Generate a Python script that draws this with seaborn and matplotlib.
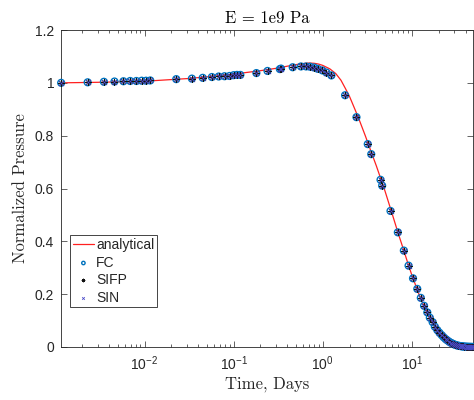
import numpy as np
import pandas as pd
import seaborn as sns
import matplotlib.pyplot as plt
from matplotlib.ticker import FuncFormatter, LogLocator, FixedLocator, NullFormatter

# ---- analytical solution ----
t_analytical = [0.00116, 0.003, 0.01, 0.03, 0.06, 0.1, 0.2, 0.3, 0.4, 0.5,
                0.6, 0.7, 0.8, 0.9, 1.0, 1.2, 1.4, 1.6, 1.8, 2.0,
                2.5, 3.0, 3.5, 4.0, 5.0, 6.0, 7.0, 8.0, 9.0, 10.0,
                12.0, 14.0, 16.0, 18.0, 20.0, 23.0, 26.0, 30.0, 35.0, 40.0,
                45.0, 48.6]
p_analytical = [1.000, 1.002, 1.006, 1.016, 1.025, 1.033, 1.046, 1.055, 1.063, 1.069,
                1.073, 1.075, 1.074, 1.071, 1.066, 1.053, 1.035, 1.010, 0.978, 0.948,
                0.870, 0.800, 0.738, 0.685, 0.590, 0.505, 0.432, 0.372, 0.318, 0.272,
                0.200, 0.148, 0.108, 0.079, 0.057, 0.035, 0.021, 0.011, 0.005, 0.002,
                0.001, 0.0004]

# ---- numerical results (FC, SIFP, SIN lie on top of each other) ----
t_numerical = [0.00116, 0.0023, 0.0035, 0.0046, 0.0058, 0.0069, 0.0081, 0.0093, 0.0104, 0.0116,
               0.0227, 0.034, 0.045, 0.057, 0.068, 0.079, 0.090, 0.100, 0.109, 0.119,
               0.18, 0.24, 0.33, 0.34, 0.46, 0.57, 0.65, 0.72, 0.80, 0.88,
               0.99, 1.10, 1.25, 1.78, 2.39, 3.2, 3.5, 4.45, 4.64, 5.76,
               6.96, 8.13, 9.18, 10.3, 11.5, 12.6, 13.7, 14.9, 15.9, 17.1,
               18.1, 19.3, 20.4, 21.6, 22.7, 23.9, 25.0, 26.2, 27.4, 28.5,
               29.7, 30.8, 32.0, 33.2, 34.3, 35.5, 36.6, 37.8, 38.9, 40.1,
               41.2, 42.4, 43.6, 44.7, 45.9, 47.0, 48.2]
p_numerical = [1.000, 1.002, 1.004, 1.005, 1.006, 1.007, 1.007, 1.008, 1.008, 1.009,
               1.014, 1.016, 1.019, 1.022, 1.024, 1.025, 1.026, 1.029, 1.030, 1.030,
               1.037, 1.045, 1.052, 1.054, 1.059, 1.062, 1.062, 1.061, 1.058, 1.053,
               1.047, 1.039, 1.028, 0.953, 0.870, 0.768, 0.730, 0.633, 0.611, 0.515,
               0.434, 0.365, 0.308, 0.260, 0.220, 0.186, 0.156, 0.131, 0.111, 0.094,
               0.077, 0.064, 0.054, 0.045, 0.037, 0.030, 0.025, 0.020, 0.016, 0.013,
               0.010, 0.008, 0.006, 0.005, 0.004, 0.003, 0.0025, 0.002, 0.0015, 0.0012,
               0.001, 0.0008, 0.0006, 0.0005, 0.0004, 0.0003, 0.0002]
p_fc = p_numerical
p_sifp = p_numerical
p_sin = p_numerical

y_ticks = [0, 0.2, 0.4, 0.6, 0.8, 1.0, 1.2]

sns.set_theme(style="ticks")
plt.rcParams["font.family"] = ["Liberation Sans", "DejaVu Sans"]
plt.rcParams["mathtext.fontset"] = "custom"
plt.rcParams["mathtext.rm"] = "Liberation Sans"
plt.rcParams["mathtext.it"] = "Liberation Sans:italic"
plt.rcParams["axes.unicode_minus"] = False

dark = "#262626"
fig = plt.figure(figsize=(4.74, 4.0), dpi=100)
ax = fig.add_axes([0.129, 0.1325, 0.869, 0.7925])

sns.lineplot(x=t_analytical, y=p_analytical, color="#FF2020", linewidth=0.9,
             label="analytical", ax=ax, zorder=2)
sns.scatterplot(x=t_numerical, y=p_fc, marker="o", s=24, facecolor="none",
                edgecolor="#0072BD", linewidth=1.0, label="FC", ax=ax,
                clip_on=False, zorder=3)
sns.scatterplot(x=t_numerical, y=p_sifp, marker=(8, 2, 0), s=18, color="#111111",
                linewidth=0.6, label="SIFP", ax=ax, clip_on=False, zorder=4)
sns.scatterplot(x=t_numerical, y=p_sin, marker="x", s=14, color="#4B4BC8",
                linewidth=0.6, label="SIN", ax=ax, clip_on=False, zorder=5)

ax.set_xscale("log")
ax.set_xlim(t_numerical[0], 48.6)
ax.set_ylim(0, 1.2)
ax.yaxis.set_major_locator(FixedLocator(y_ticks))
ax.yaxis.set_major_formatter(FuncFormatter(lambda v, pos: f"{v:g}"))
ax.xaxis.set_major_locator(LogLocator(base=10))
ax.xaxis.set_minor_locator(LogLocator(base=10, subs=np.arange(2, 10)))
ax.xaxis.set_minor_formatter(NullFormatter())

for side in ["top", "right", "bottom", "left"]:
    ax.spines[side].set_visible(True)
    ax.spines[side].set_color(dark)
    ax.spines[side].set_linewidth(0.6)
ax.tick_params(which="both", direction="in", top=True, right=True,
               colors=dark, labelsize=10, width=0.5)
ax.tick_params(which="major", length=4, pad=5)
ax.tick_params(which="minor", length=2)

ax.set_title("E = 1e9 Pa", fontfamily="cmr10", fontsize=12, color="black", pad=5)
ax.set_xlabel("Time, Days", fontfamily="cmr10", fontsize=12, color=dark, labelpad=3)
ax.set_ylabel("Normalized Pressure", fontfamily="cmr10", fontsize=12, color=dark, labelpad=5)

leg = ax.legend(loc="lower left", bbox_to_anchor=(0.022, 0.125), borderaxespad=0,
                fontsize=10, frameon=True, fancybox=False, framealpha=1,
                edgecolor=dark, handlelength=1.5, handletextpad=0.15,
                labelspacing=0.25, borderpad=0.2, scatterpoints=1, markerscale=0.5)
leg.get_frame().set_linewidth(0.6)

fig.savefig("out.png", dpi=100)
